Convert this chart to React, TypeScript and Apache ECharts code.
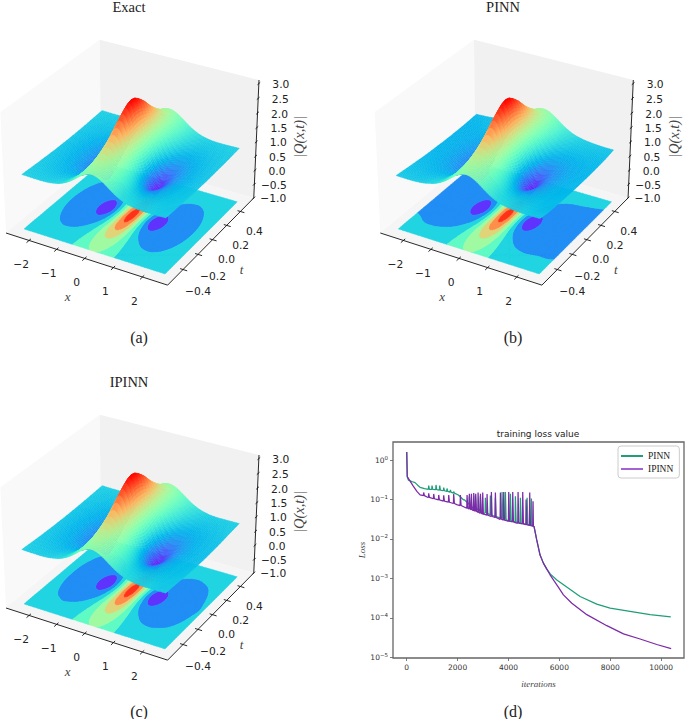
import React, { useEffect, useRef } from "react";
import * as echarts from "echarts";

// ---------- surface |Q(x,t)|
const xNodes = [-2.5,-2.25,-2,-1.75,-1.5,-1.25,-1.125,-1,-0.875,-0.75,-0.625,-0.5,-0.375,-0.25,-0.125,0,0.125,0.25,0.375,0.5,0.625,0.75,0.875,1,1.125,1.25,1.5,1.75,2,2.25,2.5];
const tNodes = [-0.5,-0.375,-0.25,-0.125,0,0.125,0.25,0.375,0.5];
// central part, |x| = 0, .125 ... 1.25, for |t| = .5, .375, .25, .125, 0
const coreT50 = [1.612,1.594,1.542,1.465,1.374,1.28,1.19,1.113,1.048,.997,.959];
const coreT37 = [1.86,1.823,1.72,1.575,1.413,1.258,1.125,1.018,.941,.889,.857];
const coreT25 = [2.236,2.155,1.941,1.659,1.374,1.13,.943,.817,.745,.713,.707];
const coreT12 = [2.72,2.553,2.134,1.635,1.181,.827,.589,.47,.449,.484,.538];
const coreT00 = [3.0,2.765,2.2,1.56,1.0,.561,.23,.02,.2,.34,.448];
const coreRows = [coreT50,coreT37,coreT25,coreT12,coreT00,coreT12,coreT25,coreT37,coreT50];
// outer columns: x = -2.5 ... -1.5 and x = 1.5 ... 2.5, one row per t
const exactLeft = [[.907,.9,.895,.897,.914],[.884,.868,.851,.837,.832],[.865,.84,.809,.772,.733],[.851,.819,.777,.719,.64],[.846,.812,.765,.698,.6],[.851,.819,.777,.719,.64],[.865,.84,.809,.772,.733],[.884,.868,.851,.837,.832],[.907,.9,.895,.897,.914]];
const exactRight = [[.914,.897,.895,.9,.907],[.832,.837,.851,.868,.884],[.733,.772,.809,.84,.865],[.64,.719,.777,.819,.851],[.6,.698,.765,.812,.846],[.64,.719,.777,.819,.851],[.733,.772,.809,.84,.865],[.832,.837,.851,.868,.884],[.914,.897,.895,.9,.907]];
const pinnLeft = [[.87,.865,.865,.875,.9],[.83,.82,.81,.81,.82],[.795,.785,.765,.745,.72],[.765,.755,.73,.685,.62],[.75,.74,.72,.67,.58],[.74,.735,.72,.685,.62],[.74,.735,.73,.72,.71],[.75,.755,.765,.785,.805],[.775,.785,.8,.825,.87]];
const pinnRight = [[.91,.89,.88,.88,.885],[.825,.82,.82,.815,.815],[.725,.75,.77,.78,.79],[.62,.685,.73,.755,.77],[.58,.665,.72,.75,.76],[.62,.68,.72,.745,.76],[.71,.73,.75,.76,.77],[.825,.815,.805,.8,.795],[.91,.88,.86,.85,.85]];
const ipinnLeft = [[.905,.895,.89,.89,.91],[.88,.86,.84,.83,.825],[.86,.835,.8,.765,.725],[.85,.815,.772,.715,.635],[.845,.81,.762,.695,.598],[.85,.815,.772,.715,.635],[.86,.835,.8,.765,.725],[.88,.86,.84,.83,.825],[.905,.895,.89,.89,.91]];
const ipinnRight = [[.91,.895,.895,.895,.9],[.83,.83,.84,.86,.875],[.73,.765,.79,.815,.84],[.64,.715,.77,.795,.82],[.6,.695,.755,.79,.805],[.64,.715,.77,.795,.82],[.73,.765,.79,.815,.84],[.83,.83,.84,.86,.875],[.91,.895,.895,.895,.9]];
const contourLevels = [0,0.4,0.8,1.2,1.6,2.0,2.4,2.8,3.2];
const xTicks = [-2,-1,0,1,2];
const tTicks = [-0.4,-0.2,0,0.2,0.4];
const zTicks = [-1,-0.5,0,0.5,1,1.5,2,2.5,3];

// ---------- loss curves: [iteration, loss]
const pinnBase = [[0,1.6],[20,.38],[64,.31],[200,.285],[326,.267],[430,.23],[523,.203],[700,.187],[2030,.13],[2227,.098],[2600,.06],[3000,.043],[3500,.034],[4000,.028],[4500,.024],[4980,.021]];
// [iteration, baseline, peak]
const pinnSpikes = [[851,.181,.224],[982,.179,.224],[1139,.177,.233],[1284,.172,.224],[1441,.166,.2],[1572,.16,.19],[1703,.153,.174],[1834,.145,.158],[2227,.098,.1],[2450,.075,.12],[2686,.06,.125],[2883,.052,.12],[3080,.046,.11],[3276,.041,.125],[3473,.037,.11],[3735,.033,.155],[3866,.031,.155],[4063,.029,.14],[4260,.027,.12],[4457,.025,.11],[4720,.023,.11],[4890,.0215,.105]];
const pinnTail = [[5006,.0205],[5110,.0094],[5242,.0039],[5372,.00243],[5501,.00174],[5650,.00128],[5900,.00091],[6290,.0006],[6815,.000347],[7470,.000222],[7995,.000175],[8780,.000145],[9567,.00012],[10380,.000106]];
const ipinnBase = [[0,1.6],[20,.38],[120,.3],[250,.22],[400,.16],[524,.13],[800,.115],[1180,.1],[1600,.087],[1966,.074],[2360,.06],[3014,.041],[3670,.031],[4325,.025],[4980,.021]];
const ipinnSpikes = [[654,.125,.15],[851,.113,.143],[1048,.104,.138],[1245,.097,.13],[1441,.091,.127],[1638,.085,.13],[1834,.079,.138],[2097,.07,.13],[2360,.06,.13],[2450,.057,.14],[2530,.055,.14],[2622,.052,.145],[2700,.05,.14],[2793,.047,.15],[2885,.045,.14],[2975,.043,.15],[3146,.04,.138],[3316,.037,.155],[3473,.035,.15],[3670,.032,.15],[3801,.03,.155],[3997,.028,.155],[4155,.027,.155],[4365,.025,.155],[4548,.024,.155],[4680,.023,.1],[4823,.022,.15],[4954,.021,.09]];
const ipinnTail = [[5006,.0205],[5110,.0094],[5242,.0039],[5372,.00243],[5501,.00174],[5635,.00123],[5800,.00085],[5960,.0006],[6160,.00038],[6490,.000234],[7080,.00012],[7865,.000063],[8520,.000039],[9175,.000029],[9830,.000021],[10395,.0000166]];
const iterationTicks = [0,2000,4000,6000,8000,10000];
const lossTicks = [1e-5,1e-4,1e-3,1e-2,1e-1,1];

const xLim = [-2.85,2.85], tLim = [-0.6,0.6], zLim = [-1,3.12];
const SERIF = '"Liberation Serif", serif';
const SANS = '"DejaVu Sans", sans-serif';

function buildTable(left: number[][], right: number[][]) {
  return coreRows.map((c, j) => [...left[j], ...c.slice(1).reverse(), ...c, ...right[j]]);
}

function rainbow(f: number) {
  f = Math.max(0, Math.min(1, f));
  const c = (v: number) => Math.round(255 * Math.max(0, Math.min(1, v)));
  return `rgb(${c(Math.abs(2 * f - 0.5))},${c(Math.sin(Math.PI * f))},${c(Math.cos(Math.PI * f / 2))})`;
}

function makeProjector(anchorA: number[], anchorG: number[]) {
  const box = [1.143, 1.143, 0.857];
  const el = 30 * Math.PI / 180, az = -60 * Math.PI / 180, dist = 10;
  const w = [Math.cos(el) * Math.cos(az), Math.cos(el) * Math.sin(az), Math.sin(el)];
  const eye = [box[0] / 2 + dist * w[0], box[1] / 2 + dist * w[1], box[2] / 2 + dist * w[2]];
  let u = [-w[1], w[0], 0];
  const n = Math.hypot(u[0], u[1]);
  u = [u[0] / n, u[1] / n, 0];
  const v = [w[1] * u[2] - w[2] * u[1], w[2] * u[0] - w[0] * u[2], w[0] * u[1] - w[1] * u[0]];
  const raw = (x: number, t: number, z: number) => {
    const p = [
      (x - xLim[0]) / (xLim[1] - xLim[0]) * box[0] - eye[0],
      (t - tLim[0]) / (tLim[1] - tLim[0]) * box[1] - eye[1],
      (z - zLim[0]) / (zLim[1] - zLim[0]) * box[2] - eye[2],
    ];
    const d = -(p[0] * w[0] + p[1] * w[1] + p[2] * w[2]);
    return [(p[0] * u[0] + p[1] * u[1]) / d, (p[0] * v[0] + p[1] * v[1] + p[2] * v[2]) / d, d];
  };
  const a = raw(xLim[0], tLim[0], zLim[0]), g = raw(xLim[1], tLim[1], zLim[1]);
  const sx = (anchorG[0] - anchorA[0]) / (g[0] - a[0]);
  const sy = (anchorG[1] - anchorA[1]) / (g[1] - a[1]);
  return {
    at: (x: number, t: number, z: number) => {
      const r = raw(x, t, z);
      return [anchorA[0] + sx * (r[0] - a[0]), anchorA[1] + sy * (r[1] - a[1])];
    },
    depth: (x: number, t: number, z: number) => raw(x, t, z)[2],
  };
}

// smooth shading between the table's nodes
function hermite(xs: number[], vs: number[], x: number) {
  let i = 0;
  while (i < xs.length - 2 && x > xs[i + 1]) i++;
  const a = Math.max(0, i - 1), b = Math.min(xs.length - 1, i + 2);
  const h = xs[i + 1] - xs[i], s = (x - xs[i]) / h;
  const m0 = (vs[i + 1] - vs[a]) / (xs[i + 1] - xs[a]) * h;
  const m1 = (vs[b] - vs[i]) / (xs[b] - xs[i]) * h;
  const s2 = s * s, s3 = s2 * s;
  return (2 * s3 - 3 * s2 + 1) * vs[i] + (s3 - 2 * s2 + s) * m0 + (3 * s2 - 2 * s3) * vs[i + 1] + (s3 - s2) * m1;
}
function shade(table: number[][], x: number, t: number) {
  const col = table.map((r) => hermite(xNodes, r, x));
  return Math.max(0, hermite(tNodes, col, t));
}

function clipBand(poly: number[][], lo: number, hi: number) {
  const clip = (pts: number[][], keep: (v: number) => boolean, lim: number) => {
    const out: number[][] = [];
    for (let i = 0; i < pts.length; i++) {
      const a = pts[i], b = pts[(i + 1) % pts.length];
      const ka = keep(a[2]), kb = keep(b[2]);
      if (ka) out.push(a);
      if (ka !== kb) {
        const s = (lim - a[2]) / (b[2] - a[2]);
        out.push([a[0] + s * (b[0] - a[0]), a[1] + s * (b[1] - a[1]), lim]);
      }
    }
    return out;
  };
  let r = poly;
  if (lo > 0) r = clip(r, (v) => v >= lo, lo);
  if (r.length) r = clip(r, (v) => v <= hi, hi);
  return r;
}

function surfaceColumns() {
  const xs: number[] = [];
  for (let i = 0; i < 24; i++) xs.push(-2.5 + 1.25 * i / 24);
  for (let i = 0; i < 100; i++) xs.push(-1.25 + 2.5 * i / 100);
  for (let i = 0; i <= 24; i++) xs.push(1.25 + 1.25 * i / 24);
  return xs;
}

function panelSeries(table: number[][], anchorA: number[], anchorG: number[]) {
  const P = makeProjector(anchorA, anchorG);
  const base = { type: "custom", coordinateSystem: "cartesian2d", xAxisIndex: 0, yAxisIndex: 0, clip: false, silent: true, progressive: 0, animation: false };
  const [x0, x1] = xLim, [t0, t1] = tLim, [z0, z1] = zLim;

  // panes, axes, ticks, labels
  const prims: any[] = [
    { k: "poly", pts: [[x0,t0,z0],[x0,t1,z0],[x0,t1,z1],[x0,t0,z1]], fill: "#f9f9f9" },
    { k: "poly", pts: [[x0,t1,z0],[x1,t1,z0],[x1,t1,z1],[x0,t1,z1]], fill: "#f1f1f1" },
    { k: "poly", pts: [[x0,t0,z0],[x1,t0,z0],[x1,t1,z0],[x0,t1,z0]], fill: "#f5f5f5" },
    { k: "line", a: [x0,t0,z0], b: [x1,t0,z0] },
    { k: "line", a: [x1,t0,z0], b: [x1,t1,z0] },
    { k: "line", a: [x1,t1,z0], b: [x1,t1,z1] },
  ];
  xTicks.forEach((v) => {
    prims.push({ k: "line", a: [v,t0 + 0.022,z0], b: [v,t0 - 0.03,z0] });
    prims.push({ k: "text", a: [v,t0,z0], dx: -8, dy: 24, text: String(v).replace("-", "\u2212") });
  });
  tTicks.forEach((v) => {
    prims.push({ k: "line", a: [x1 - 0.1,v,z0], b: [x1 + 0.14,v,z0] });
    prims.push({ k: "text", a: [x1,v,z0], dx: v < 0 ? 15 : 14, dy: v < 0 ? 22 : 20, text: v.toFixed(1).replace("-", "\u2212") });
  });
  zTicks.forEach((v) => {
    prims.push({ k: "line", a: [x1,t1 - 0.02,v], b: [x1,t1 + 0.02,v] });
    prims.push({ k: "text", a: [x1,t1,v], dx: v < 0 ? 19.5 : 22, dy: 1, text: v.toFixed(1).replace("-", "\u2212") });
  });
  prims.push({ k: "text", a: [0,t0,z0], dx: -17, dy: 38, text: "x", font: SERIF, italic: true, size: 13, fill: "#444" });
  prims.push({ k: "text", a: [x1,0,z0], dx: 29, dy: 30, text: "t", font: SERIF, italic: true, size: 13, fill: "#444" });
  prims.push({ k: "text", a: [x1,t1,1], dx: 43, dy: -5, text: "|Q(x,t)|", font: SERIF, italic: true, size: 14.5, fill: "#444", rot: Math.PI / 2 });

  const boxSeries = {
    ...base, z: 1, data: prims.map((_, i) => [i, 0]),
    renderItem: (params: any, api: any) => {
      const p = prims[params.dataIndex];
      const c = (q: number[]) => api.coord(P.at(q[0], q[1], q[2]));
      if (p.k === "poly") return { type: "polygon", shape: { points: p.pts.map(c) }, style: { fill: p.fill, stroke: null } };
      if (p.k === "line") {
        const a = c(p.a), b = c(p.b);
        return { type: "line", shape: { x1: a[0], y1: a[1], x2: b[0], y2: b[1] }, style: { stroke: "#111", lineWidth: 0.9 } };
      }
      const a = c(p.a);
      return {
        type: "text", x: a[0] + p.dx, y: a[1] + p.dy, rotation: p.rot || 0,
        style: {
          text: p.text, fontFamily: p.font || SANS, fontSize: p.size || 10.7, fontStyle: p.italic ? "italic" : "normal",
          fill: p.fill || "#222", align: "center", textAlign: "center", verticalAlign: "middle", textVerticalAlign: "middle",
        },
      };
    },
  };

  // filled contours on the floor
  const NXF = 100, NTF = 40;
  const bands: number[][][][] = contourLevels.slice(0, -1).map(() => []);
  for (let i = 0; i < NXF; i++) for (let j = 0; j < NTF; j++) {
    const xa = -2.5 + 5 * i / NXF, xb = -2.5 + 5 * (i + 1) / NXF, ta = -0.5 + j / NTF, tb = -0.5 + (j + 1) / NTF;
    const cell = [[xa,ta,shade(table,xa,ta)],[xb,ta,shade(table,xb,ta)],[xb,tb,shade(table,xb,tb)],[xa,tb,shade(table,xa,tb)]];
    bands.forEach((list, b) => {
      const r = clipBand(cell, contourLevels[b], contourLevels[b + 1]);
      if (r.length > 2) list.push(r);
    });
  }
  const floorSeries = {
    ...base, z: 2, data: bands.map((_, i) => [i, 0]),
    renderItem: (params: any, api: any) => {
      const b = params.dataIndex;
      let d = "";
      bands[b].forEach((poly) => {
        poly.forEach((q, i) => {
          const s = api.coord(P.at(q[0], q[1], z0));
          d += (i ? "L" : "M") + s[0].toFixed(2) + " " + s[1].toFixed(2);
        });
        d += "Z";
      });
      const col = rainbow((contourLevels[b] + contourLevels[b + 1]) / 2 / 3.2);
      return { type: "path", shape: { pathData: d || "M0 0" }, style: { fill: col, stroke: col, lineWidth: 0.4 } };
    },
  };

  // the surface, painted back to front
  const cols = surfaceColumns();
  const NT = 26;
  const grid = cols.map((x) => {
    const row: number[] = [];
    for (let j = 0; j <= NT; j++) row.push(shade(table, x, -0.5 + j / NT));
    return row;
  });
  const cells: any[] = [];
  for (let i = 0; i < cols.length - 1; i++) for (let j = 0; j < NT; j++) {
    const xa = cols[i], xb = cols[i + 1], ta = -0.5 + j / NT, tb = -0.5 + (j + 1) / NT;
    const q = [[xa,ta,grid[i][j]],[xb,ta,grid[i + 1][j]],[xb,tb,grid[i + 1][j + 1]],[xa,tb,grid[i][j + 1]]];
    const m = (q[0][2] + q[1][2] + q[2][2] + q[3][2]) / 4;
    cells.push({ q, m, d: P.depth((xa + xb) / 2, (ta + tb) / 2, m) });
  }
  cells.sort((a, b) => b.d - a.d);
  const surfaceSeries = {
    ...base, z: 3, data: cells.map((_, i) => [i, 0]),
    renderItem: (params: any, api: any) => {
      const c = cells[params.dataIndex];
      const col = rainbow(c.m / 3);
      return { type: "polygon", shape: { points: c.q.map((q: number[]) => api.coord(P.at(q[0], q[1], q[2]))) }, style: { fill: col, stroke: col, lineWidth: 0.4 } };
    },
  };
  return [boxSeries, floorSeries, surfaceSeries];
}

function lossLine(base: number[][], spikes: number[][], tail: number[][]) {
  const pts = base.map((p) => [p[0], p[1]]);
  spikes.forEach((s) => {
    pts.push([s[0], s[1]], [s[0] + 12, s[2]], [s[0] + 40, s[1]]);
  });
  pts.sort((a, b) => a[0] - b[0]);
  return pts.concat(tail);
}

const heading = (text: string, x: number, y: number, size = 14.5, family = SERIF) => ({
  text, left: x, top: y, padding: 0, textAlign: "center", textVerticalAlign: "middle",
  textStyle: { fontFamily: family, fontSize: size, fontWeight: "normal", color: "#222" },
});

export default function App() {
  const ref = useRef<HTMLDivElement>(null);
  useEffect(() => {
    const chart = echarts.init(ref.current!, null, { renderer: "svg" });
    chart.setOption({
      animation: false,
      backgroundColor: "#fff",
      title: [
        heading("Exact", 129, 7), heading("PINN", 503, 7), heading("IPINN", 129, 382),
        heading("(a)", 139, 337, 16), heading("(b)", 513, 337, 16), heading("(c)", 139, 711, 16), heading("(d)", 513, 711, 16),
        heading("training loss value", 538, 434, 9, SANS),
      ],
      grid: [
        { left: 0, top: 0, width: 685, height: 719, show: false },
        { left: 393, top: 442, width: 291, height: 216, show: true, borderColor: "#666", borderWidth: 1.3, z: 5 },
      ],
      xAxis: [
        { type: "value", gridIndex: 0, min: 0, max: 685, show: false },
        {
          type: "value", gridIndex: 1, min: -540, max: 10900, splitLine: { show: false }, axisLine: { show: false, onZero: false },
          axisTick: { customValues: iterationTicks, length: 3, lineStyle: { color: "#444", width: 0.7 } },
          axisLabel: { customValues: iterationTicks, formatter: (v: number) => String(v), fontFamily: SANS, fontSize: 7.5, color: "#333", margin: 5 },
          name: "iterations", nameLocation: "middle", nameGap: 21,
          nameTextStyle: { fontFamily: SERIF, fontStyle: "italic", fontSize: 9, color: "#444" },
        },
      ],
      yAxis: [
        { type: "value", gridIndex: 0, min: 0, max: 719, inverse: true, show: false },
        {
          type: "log", gridIndex: 1, min: 9.55e-6, max: 2.86, splitLine: { show: false }, axisLine: { show: false, onZero: false }, minorTick: { show: false },
          axisTick: { customValues: lossTicks, length: 3, lineStyle: { color: "#444", width: 0.7 } },
          axisLabel: {
            customValues: lossTicks, margin: 5,
            formatter: (v: number) => `{b|10}{s|${String(Math.round(Math.log10(v))).replace("-", "\u2212")}}`,
            rich: {
              b: { fontFamily: SANS, fontSize: 7.5, color: "#333" },
              s: { fontFamily: SANS, fontSize: 5.5, color: "#333", padding: [0, 0, 5, 0] },
            },
          },
          name: "Loss", nameLocation: "middle", nameGap: 22, nameRotate: 90,
          nameTextStyle: { fontFamily: SERIF, fontStyle: "italic", fontSize: 9, color: "#444" },
        },
      ],
      legend: {
        data: ["PINN", "IPINN"], orient: "vertical", left: 618, top: 446, padding: [5, 6, 4, 3], itemGap: 3, itemWidth: 22, itemHeight: 8,
        borderColor: "#ccc", borderWidth: 1, borderRadius: 3, backgroundColor: "#fff", z: 10,
        textStyle: { fontFamily: SERIF, fontSize: 9.5, color: "#222" }, icon: "path://M0 4H22V6H0Z",
      },
      series: [
        ...panelSeries(buildTable(exactLeft, exactRight), [6, 233], [259, 80]),
        ...panelSeries(buildTable(pinnLeft, pinnRight), [380.3, 233], [633.3, 80]),
        ...panelSeries(buildTable(ipinnLeft, ipinnRight), [6, 608], [259, 455]),
        { name: "PINN", type: "line", xAxisIndex: 1, yAxisIndex: 1, data: lossLine(pinnBase, pinnSpikes, pinnTail), symbol: "none", lineStyle: { color: "#1f9e78", width: 1.25 }, itemStyle: { color: "#1f9e78" }, z: 4 },
        { name: "IPINN", type: "line", xAxisIndex: 1, yAxisIndex: 1, data: lossLine(ipinnBase, ipinnSpikes, ipinnTail), symbol: "none", lineStyle: { color: "#7b2aa8", width: 1.25 }, itemStyle: { color: "#a463d2" }, z: 4 },
      ],
    });
    return () => chart.dispose();
  }, []);
  return <div ref={ref} style={{ position: "fixed", left: 0, top: 0, width: 685, height: 719 }} />;
}
